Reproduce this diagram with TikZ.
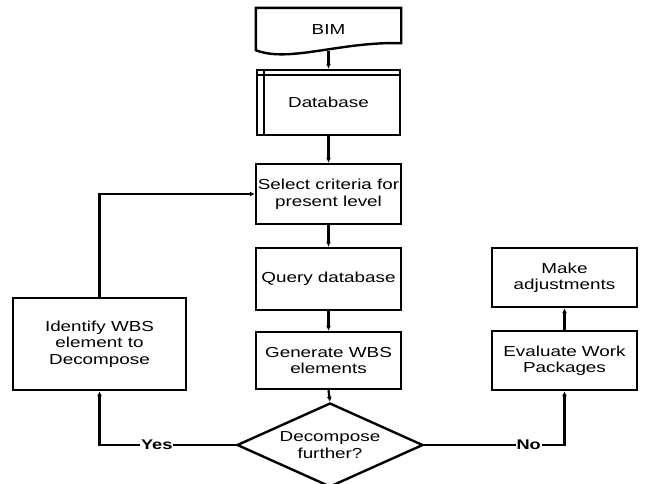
\documentclass[tikz,border=0pt]{standalone}
\usepackage{fontspec}
\setmainfont{Liberation Sans}[FakeStretch=1.3]
\usetikzlibrary{arrows.meta,shapes.geometric,calc}

\begin{document}
\begin{tikzpicture}[x=1pt,y=-1pt,
    box/.style={draw,line width=2.4pt,minimum width=145pt,align=center,inner sep=0pt,font=\fontsize{14.5}{16.5}\selectfont},
    arr/.style={line width=2.2pt,-{Latex[length=5pt,width=5pt]}},
    lbl/.style={fill=white,inner sep=1pt,font=\bfseries\fontsize{14}{16}\selectfont}]
    \useasboundingbox (0,0) rectangle (645,483);

    % Draw the source document and the database
    \node[box,draw=none,minimum width=143pt,minimum height=41pt] (bim) at (328.5,29.5) {BIM};
    \draw[line width=2.4pt] (bim.north west) -- (bim.north east) -- ($(bim.south east)+(0,-8)$)
        .. controls ($(bim.south east)+(-60,-10)$) and ($(bim.south west)+(33,12)$) .. ($(bim.south west)+(0,-1)$) -- cycle;
    \node[box,minimum width=143pt,minimum height=65pt] (db) at (328.5,102.5) {Database};
    \draw[line width=2.4pt] ($(db.north west)+(8,0)$) -- ($(db.south west)+(8,0)$);
    \draw[line width=2.4pt] ($(db.north west)+(0,6)$) -- ($(db.north east)+(0,6)$);

    % Draw the main column
    \node[box,minimum height=60pt] (sel) at (328.5,194) {Select criteria for\\present level};
    \node[box,minimum height=62pt] (query) at (328.5,279) {Query database};
    \node[box,minimum height=57pt] (gen) at (328.5,360.5) {Generate WBS\\elements};
    \node[draw,diamond,line width=2.4pt,minimum width=186pt,minimum height=84pt,aspect=2.2,inner sep=0pt,
        align=center,font=\fontsize{14.5}{16.5}\selectfont] (dec) at (330,445) {Decompose\\further?};

    % Draw the side boxes
    \node[box,minimum width=173pt,minimum height=92pt] (idn) at (99.5,344) {Identify WBS\\element to\\Decompose};
    \node[box,minimum height=59pt] (make) at (564.5,277.5) {Make\\adjustments};
    \node[box,minimum height=59pt] (eval) at (564.5,360.5) {Evaluate Work\\Packages};

    % Connect the steps
    \draw[arr] (bim.south) -- (db.north);
    \draw[arr] (db.south) -- (sel.north);
    \draw[arr] (sel.south) -- (query.north);
    \draw[arr] (query.south) -- (gen.north);
    \draw[arr] (gen.south) -- (dec.north);
    \draw[arr] (dec.west) -- node[lbl,pos=0.58]{Yes} (idn.south |- dec.west) -- (idn.south);
    \draw[arr] (idn.north) |- (sel.west);
    \draw[arr] (dec.east) -- node[lbl,pos=0.745]{No} (eval.south |- dec.east) -- (eval.south);
    \draw[arr] (eval.north) -- (make.south);
\end{tikzpicture}
\end{document}
